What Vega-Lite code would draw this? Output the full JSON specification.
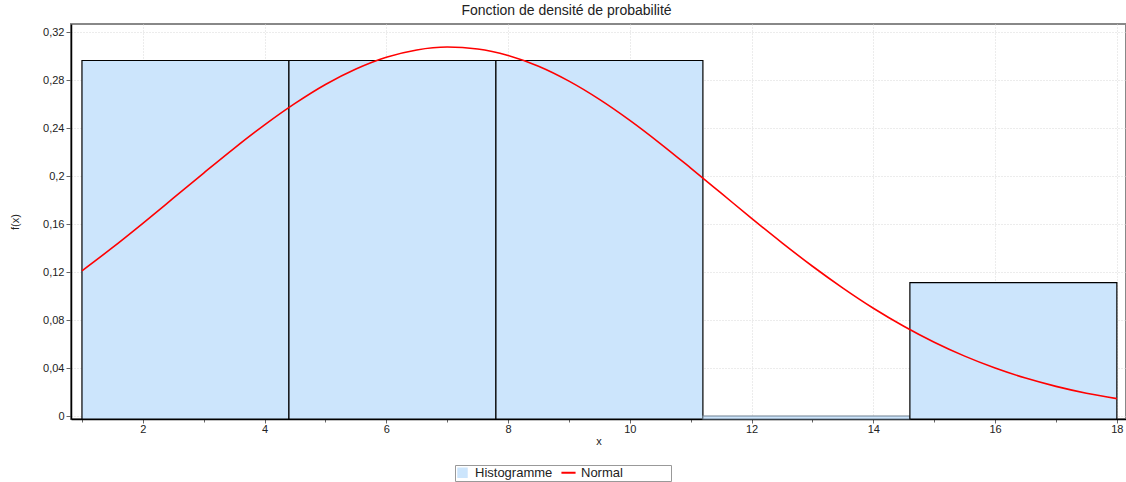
{
  "$schema": "https://vega.github.io/schema/vega-lite/v6.json",
  "width": 1055,
  "height": 395,
  "autosize": {"type": "none"},
  "padding": {"left": 71, "top": 24, "right": 0, "bottom": 63},
  "background": "white",
  "config": {
    "font": "Liberation Sans",
    "view": {"stroke": "#888888", "strokeWidth": 2},
    "axis": {"labelFont": "Liberation Sans", "titleFont": "Liberation Sans", "labelFontSize": 11, "titleFontSize": 11, "labelColor": "#222", "titleColor": "#222", "titleFontWeight": "normal", "domainColor": "#000", "domainWidth": 1.5, "tickColor": "#666", "gridColor": "#d8d8d8", "gridDash": [1, 2]},
    "legend": {
      "title": null, "orient": "none", "legendX": 384, "legendY": 441,
      "direction": "horizontal", "strokeColor": "#999", "padding": 1,
      "labelFont": "Liberation Sans", "labelFontSize": 13, "labelColor": "#222",
      "columnPadding": 4, "labelOffset": 6
    }
  },
  "title": {"text": "Fonction de densité de probabilité", "fontSize": 14, "fontWeight": "normal", "font": "Liberation Sans", "color": "#222", "anchor": "middle", "offset": 6, "dx": -32},
  "datasets": {
    "hist": [
      {"bin_start": 1.0, "bin_end": 4.4, "density": 0.2963},
      {"bin_start": 4.4, "bin_end": 7.8, "density": 0.2963},
      {"bin_start": 7.8, "bin_end": 11.2, "density": 0.2963},
      {"bin_start": 11.2, "bin_end": 14.6, "density": 0.0},
      {"bin_start": 14.6, "bin_end": 18.0, "density": 0.1111}
    ],
    "curve": [
      {"x": 1.0, "y": 0.1210}, {"x": 1.5, "y": 0.1403}, {"x": 2.0, "y": 0.1606}, {"x": 2.5, "y": 0.1815},
      {"x": 3.0, "y": 0.2025}, {"x": 3.5, "y": 0.2231}, {"x": 4.0, "y": 0.2426}, {"x": 4.5, "y": 0.2605},
      {"x": 5.0, "y": 0.2763}, {"x": 5.5, "y": 0.2892}, {"x": 6.0, "y": 0.2990}, {"x": 6.5, "y": 0.3051},
      {"x": 7.0, "y": 0.3075}, {"x": 7.5, "y": 0.3059}, {"x": 8.0, "y": 0.3005}, {"x": 8.5, "y": 0.2915},
      {"x": 9.0, "y": 0.2791}, {"x": 9.5, "y": 0.2639}, {"x": 10.0, "y": 0.2464}, {"x": 10.5, "y": 0.2271},
      {"x": 11.0, "y": 0.2066}, {"x": 11.5, "y": 0.1857}, {"x": 12.0, "y": 0.1647}, {"x": 12.5, "y": 0.1443},
      {"x": 13.0, "y": 0.1248}, {"x": 13.5, "y": 0.1066}, {"x": 14.0, "y": 0.0898}, {"x": 14.5, "y": 0.0748},
      {"x": 15.0, "y": 0.0615}, {"x": 15.5, "y": 0.0499}, {"x": 16.0, "y": 0.0400}, {"x": 16.5, "y": 0.0316},
      {"x": 17.0, "y": 0.0247}, {"x": 17.5, "y": 0.0190}, {"x": 18.0, "y": 0.0145}
    ]
  },
  "layer": [
    {
      "data": {"name": "hist"},
      "mark": {"type": "bar", "strokeWidth": 1.2, "opacity": 1},
      "encoding": {
        "x": {
          "field": "bin_start", "type": "quantitative",
          "scale": {"domain": [0.82, 18.15], "nice": false, "zero": false},
          "axis": {
            "title": "x", "titlePadding": 1,
            "values": [1, 1.5, 2, 2.5, 3, 3.5, 4, 4.5, 5, 5.5, 6, 6.5, 7, 7.5, 8, 8.5, 9, 9.5, 10, 10.5, 11, 11.5, 12, 12.5, 13, 13.5, 14, 14.5, 15, 15.5, 16, 16.5, 17, 17.5, 18],
            "labelExpr": "datum.value % 2 == 0 ? datum.value : ''",
            "labelPadding": 0,
            "labelFlush": false,
            "labelOverlap": false,
            "tickSize": {"condition": {"test": "datum.value % 2 == 0", "value": 4}, "value": 3},
            "gridOpacity": {"condition": {"test": "datum.value % 2 == 0", "value": 1}, "value": 0},
            "grid": true
          }
        },
        "x2": {"field": "bin_end"},
        "y": {
          "field": "density", "type": "quantitative",
          "scale": {"domain": [-0.0025, 0.3267], "nice": false, "zero": false},
          "axis": {
            "title": "f(x)", "titlePadding": 22,
            "values": [0, 0.01, 0.02, 0.03, 0.04, 0.05, 0.06, 0.07, 0.08, 0.09, 0.1, 0.11, 0.12, 0.13, 0.14, 0.15, 0.16, 0.17, 0.18, 0.19, 0.2, 0.21, 0.22, 0.23, 0.24, 0.25, 0.26, 0.27, 0.28, 0.29, 0.3, 0.31, 0.32],
            "labelExpr": "abs(datum.value*25 - round(datum.value*25)) < 0.000001 ? replace(format(datum.value, '.2~f'), '.', ',') : ''",
            "labelPadding": 2,
            "labelOverlap": false,
            "labelFlush": false,
            "tickSize": {"condition": {"test": "abs(datum.value*25 - round(datum.value*25)) < 0.000001", "value": 5}, "value": 3},
            "gridOpacity": {"condition": {"test": "abs(datum.value*25 - round(datum.value*25)) < 0.000001", "value": 1}, "value": 0},
            "grid": true
          }
        },
        "y2": {"datum": -0.0025},
        "color": {
          "datum": "Histogramme", "type": "nominal",
          "scale": {"domain": ["Histogramme", "Normal"], "range": ["#cce5fc", "#ff0000"]}
        },
        "stroke": {"condition": {"test": "datum.density == 0", "value": "#6f8090"}, "value": "#000000"}
      }
    },
    {
      "data": {"name": "curve"},
      "mark": {"type": "line", "strokeWidth": 1.6, "interpolate": "monotone"},
      "encoding": {
        "x": {"field": "x", "type": "quantitative"},
        "y": {"field": "y", "type": "quantitative"},
        "color": {
          "datum": "Normal", "type": "nominal",
          "legend": {
            "labelExpr": "datum.value == 'Normal' ? 'Normal\u00a0\u00a0\u00a0\u00a0\u00a0\u00a0\u00a0\u00a0\u00a0\u00a0\u00a0\u00a0\u00a0\u200b' : datum.label",
            "encode": {
              "symbols": {
                "update": {
                  "shape": {"signal": "datum.value == 'Normal' ? 'stroke' : 'square'"},
                  "stroke": {"signal": "datum.value == 'Normal' ? '#ff0000' : '#333333'"},
                  "fill": {"signal": "datum.value == 'Normal' ? 'transparent' : '#cce5fc'"},
                  "strokeWidth": {"signal": "datum.value == 'Normal' ? 2 : 1.2"},
                  "size": {"signal": "datum.value == 'Normal' ? 200 : 85"}
                }
              }
            }
          }
        }
      }
    }
  ]
}
